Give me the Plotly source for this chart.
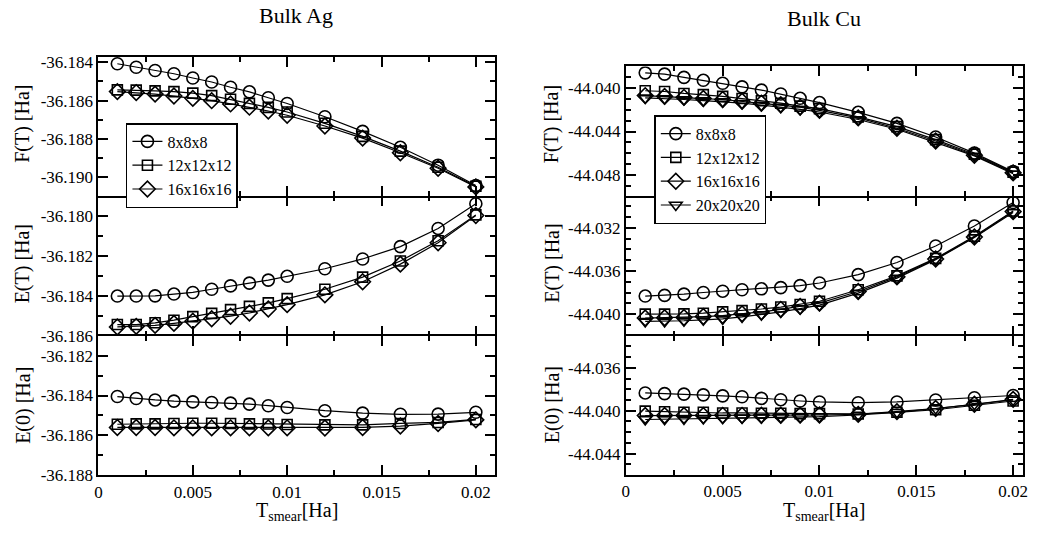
import plotly.graph_objects as go

# ---------------- data ----------------
t_smear = [0.001, 0.002, 0.003, 0.004, 0.005, 0.006, 0.007, 0.008, 0.009, 0.010,
           0.012, 0.014, 0.016, 0.018, 0.020]

ag_labels = ["8x8x8", "12x12x12", "16x16x16"]
cu_labels = ["8x8x8", "12x12x12", "16x16x16", "20x20x20"]

# y tick values per panel
ag_F_ticks = [-36.190, -36.188, -36.186, -36.184]
ag_ET_ticks = [-36.186, -36.184, -36.182, -36.180]
ag_E0_ticks = [-36.188, -36.186, -36.184, -36.182]
cu_F_ticks = [-44.048, -44.044, -44.040]
cu_ET_ticks = [-44.040, -44.036, -44.032]
cu_E0_ticks = [-44.044, -44.040, -44.036]

# Bulk Ag  F(T)
ag_F_8 = [-36.18408, -36.18426, -36.18443, -36.18460, -36.18482, -36.18503, -36.18530, -36.18554,
          -36.18585, -36.18615, -36.18684, -36.18760, -36.18843, -36.18936, -36.19042]
ag_F_12 = [-36.18544, -36.18545, -36.18549, -36.18553, -36.18561, -36.18574, -36.18593, -36.18614,
           -36.18635, -36.18659, -36.18718, -36.18786, -36.18863, -36.18947, -36.19046]
ag_F_16 = [-36.18553, -36.18558, -36.18566, -36.18576, -36.18588, -36.18600, -36.18617, -36.18634,
           -36.18654, -36.18676, -36.18732, -36.18795, -36.18871, -36.18952, -36.19049]
# Bulk Ag  E(T)
ag_ET_8 = [-36.18401, -36.18401, -36.18400, -36.18391, -36.18383, -36.18367, -36.18350, -36.18336,
           -36.18321, -36.18302, -36.18264, -36.18215, -36.18153, -36.18062, -36.17938]
ag_ET_12 = [-36.18544, -36.18544, -36.18535, -36.18522, -36.18504, -36.18488, -36.18469, -36.18453,
            -36.18435, -36.18414, -36.18367, -36.18306, -36.18225, -36.18124, -36.17994]
ag_ET_16 = [-36.18556, -36.18553, -36.18548, -36.18538, -36.18527, -36.18515, -36.18502, -36.18486,
            -36.18466, -36.18444, -36.18395, -36.18329, -36.18241, -36.18134, -36.17997]
# Bulk Ag  E(0)
ag_E0_8 = [-36.18405, -36.18415, -36.18422, -36.18428, -36.18432, -36.18435, -36.18438, -36.18443,
           -36.18451, -36.18460, -36.18476, -36.18488, -36.18494, -36.18493, -36.18484]
ag_E0_12 = [-36.18544, -36.18542, -36.18542, -36.18540, -36.18539, -36.18539, -36.18540, -36.18542,
            -36.18543, -36.18545, -36.18547, -36.18547, -36.18540, -36.18535, -36.18520]
ag_E0_16 = [-36.18560, -36.18560, -36.18560, -36.18562, -36.18562, -36.18562, -36.18562, -36.18562,
            -36.18562, -36.18562, -36.18563, -36.18560, -36.18553, -36.18540, -36.18522]

# Bulk Cu  F(T)
cu_F_8 = [-44.03859, -44.03871, -44.03901, -44.03928, -44.03955, -44.03988, -44.04018, -44.04054,
          -44.04094, -44.04133, -44.04223, -44.04325, -44.04451, -44.04599, -44.04770]
cu_F_12 = [-44.04024, -44.04031, -44.04049, -44.04060, -44.04076, -44.04096, -44.04117, -44.04139,
           -44.04166, -44.04189, -44.04265, -44.04355, -44.04475, -44.04610, -44.04775]
cu_F_16 = [-44.04069, -44.04076, -44.04085, -44.04096, -44.04105, -44.04121, -44.04139, -44.04153,
           -44.04175, -44.04205, -44.04274, -44.04370, -44.04487, -44.04619, -44.04781]
cu_F_20 = [-44.04090, -44.04096, -44.04105, -44.04115, -44.04124, -44.04139, -44.04157, -44.04175,
           -44.04196, -44.04220, -44.04289, -44.04379, -44.04499, -44.04625, -44.04790]
# Bulk Cu  E(T)
cu_ET_8 = [-44.03832, -44.03826, -44.03814, -44.03799, -44.03787, -44.03774, -44.03765, -44.03754,
           -44.03735, -44.03711, -44.03633, -44.03521, -44.03368, -44.03182, -44.02965]
cu_ET_12 = [-44.04000, -44.04000, -44.03997, -44.03991, -44.03979, -44.03967, -44.03952, -44.03934,
            -44.03910, -44.03880, -44.03774, -44.03645, -44.03483, -44.03278, -44.03043]
cu_ET_16 = [-44.04036, -44.04033, -44.04031, -44.04022, -44.04013, -44.03997, -44.03979, -44.03955,
            -44.03928, -44.03898, -44.03790, -44.03654, -44.03489, -44.03284, -44.03049]
cu_ET_20 = [-44.04067, -44.04067, -44.04061, -44.04052, -44.04043, -44.04025, -44.04004, -44.03979,
            -44.03949, -44.03916, -44.03805, -44.03666, -44.03494, -44.03290, -44.03058]
# Bulk Cu  E(0)
cu_E0_8 = [-44.03834, -44.03840, -44.03845, -44.03852, -44.03861, -44.03870, -44.03885, -44.03897,
           -44.03909, -44.03918, -44.03925, -44.03918, -44.03900, -44.03879, -44.03858]
cu_E0_12 = [-44.04004, -44.04009, -44.04015, -44.04015, -44.04021, -44.04021, -44.04024, -44.04024,
            -44.04027, -44.04027, -44.04030, -44.04015, -44.03991, -44.03949, -44.03909]
cu_E0_16 = [-44.04045, -44.04045, -44.04044, -44.04044, -44.04043, -44.04043, -44.04042, -44.04042,
            -44.04041, -44.04040, -44.04034, -44.04009, -44.03979, -44.03940, -44.03894]
cu_E0_20 = [-44.04082, -44.04079, -44.04076, -44.04073, -44.04070, -44.04067, -44.04064, -44.04061,
            -44.04058, -44.04055, -44.04040, -44.04015, -44.03979, -44.03940, -44.03900]

# ---------------- figure ----------------
W, H = 1039, 537
FONT = "Liberation Serif"
symbols = ["circle-open", "square-open", "diamond-open", "triangle-down-open"]
msizes = [12, 10, 12, 11]

fig = go.Figure()

panels = [
    (1, [ag_F_8, ag_F_12, ag_F_16], ag_labels, "legend", True),
    (2, [ag_ET_8, ag_ET_12, ag_ET_16], ag_labels, "legend", False),
    (3, [ag_E0_8, ag_E0_12, ag_E0_16], ag_labels, "legend", False),
    (4, [cu_F_8, cu_F_12, cu_F_16, cu_F_20], cu_labels, "legend2", True),
    (5, [cu_ET_8, cu_ET_12, cu_ET_16, cu_ET_20], cu_labels, "legend2", False),
    (6, [cu_E0_8, cu_E0_12, cu_E0_16, cu_E0_20], cu_labels, "legend2", False),
]

for ax, series, labels, leg, show in panels:
    suffix = "" if ax == 1 else str(ax)
    for i, (ys, lab) in enumerate(zip(series, labels)):
        fig.add_trace(go.Scatter(
            x=t_smear, y=ys, mode="lines+markers", name=lab,
            xaxis="x" + suffix, yaxis="y" + suffix,
            line=dict(color="black", width=1.2),
            marker=dict(symbol=symbols[i], size=msizes[i], color="black",
                        line=dict(color="black", width=1.6)),
            legend=leg, showlegend=show,
        ))

def px_x(p):
    return p / W

def px_y(p):
    return 1 - p / H

xL = [px_x(95.3), px_x(495)]
xR = [px_x(627.3), px_x(1027.7)]
top_L = [px_y(197.3), px_y(55)]
top_R = [px_y(197.3), px_y(65)]
mid = [px_y(341), px_y(197.3)]
bot_L = [px_y(484), px_y(341)]
bot_R = [px_y(483.7), px_y(341)]

tickfont = dict(family=FONT, size=17, color="black")

def xax(domain, anchor, rng, labels, line=True):
    return dict(domain=domain, anchor=anchor, range=rng, tick0=0, dtick=0.005,
                ticks="inside", ticklen=10, tickwidth=1.5, tickcolor="black",
                showline=line, linewidth=2, linecolor="black", mirror="allticks",
                showgrid=False, zeroline=False, showticklabels=labels,
                tickfont=tickfont,
                minor=dict(dtick=0.0025, tick0=0, ticks="inside", ticklen=5, tickwidth=1.5,
                           tickcolor="black", showgrid=False))

def yax(domain, anchor, rng, tickvals, minor):
    return dict(domain=domain, anchor=anchor, range=rng,
                tickmode="array", tickvals=tickvals,
                ticktext=["%.3f" % v for v in tickvals],
                ticks="inside", ticklen=10, tickwidth=1.5, tickcolor="black",
                showline=True, linewidth=2, linecolor="black", mirror="allticks",
                showgrid=False, zeroline=False, tickfont=tickfont,
                minor=dict(tickmode="linear", tick0=0, dtick=minor, ticks="inside",
                           ticklen=5, tickwidth=1.5, tickcolor="black", showgrid=False))

legend_common = dict(font=dict(family=FONT, size=16, color="black"),
                     bgcolor="white", bordercolor="black", borderwidth=1.5,
                     xanchor="left", yanchor="top", tracegroupgap=0, itemwidth=30)

fig.update_layout(
    width=W, height=H, margin=dict(l=0, r=0, t=0, b=0),
    paper_bgcolor="white", plot_bgcolor="white",
    font=dict(family=FONT, color="black"),
    xaxis=xax(xL, "y", [0, 0.021], False),
    yaxis=yax(top_L, "x", [-36.19094, -36.18371], ag_F_ticks, 0.001),
    xaxis2=xax(xL, "y2", [0, 0.021], False, line=False),
    yaxis2=yax(mid, "x2", [-36.186, -36.17897], ag_ET_ticks, 0.001),
    xaxis3=xax(xL, "y3", [0, 0.021], True),
    yaxis3=yax(bot_L, "x3", [-36.188, -36.181], ag_E0_ticks, 0.001),
    xaxis4=xax(xR, "y4", [0, 0.0205], False),
    yaxis4=yax(top_R, "x4", [-44.0499, -44.0380], cu_F_ticks, 0.001),
    xaxis5=xax(xR, "y5", [0, 0.0205], False, line=False),
    yaxis5=yax(mid, "x5", [-44.042, -44.029], cu_ET_ticks, 0.001),
    xaxis6=xax(xR, "y6", [0, 0.0205], True),
    yaxis6=yax(bot_R, "x6", [-44.046, -44.033], cu_E0_ticks, 0.001),
    legend=dict(x=px_x(123), y=px_y(123), **legend_common),
    legend2=dict(x=px_x(656), y=px_y(115), **legend_common),
)

annots = []
def ann(text, xp, yp, size, angle=0):
    annots.append(dict(text=text, x=px_x(xp), y=px_y(yp), xref="paper", yref="paper",
                       showarrow=False, textangle=angle, xanchor="center", yanchor="middle",
                       font=dict(family=FONT, size=size, color="black")))

ann("Bulk Ag", 295, 13, 22)
ann("Bulk Cu", 827, 16, 22)
for xp in (19, 553):
    ann("F(T) [Ha]", xp, 124, 20, -90)
    ann("E(T) [Ha]", xp, 267, 20, -90)
    ann("E(0) [Ha]", xp, 412, 20, -90)
ann("T<sub>smear</sub>[Ha]", 296, 521, 20)
ann("T<sub>smear</sub>[Ha]", 827, 521, 20)
fig.update_layout(annotations=annots)

fig.write_html("out.html", config={"displayModeBar": False},
               post_script="document.body.style.margin='0';document.body.style.overflow='hidden';")
